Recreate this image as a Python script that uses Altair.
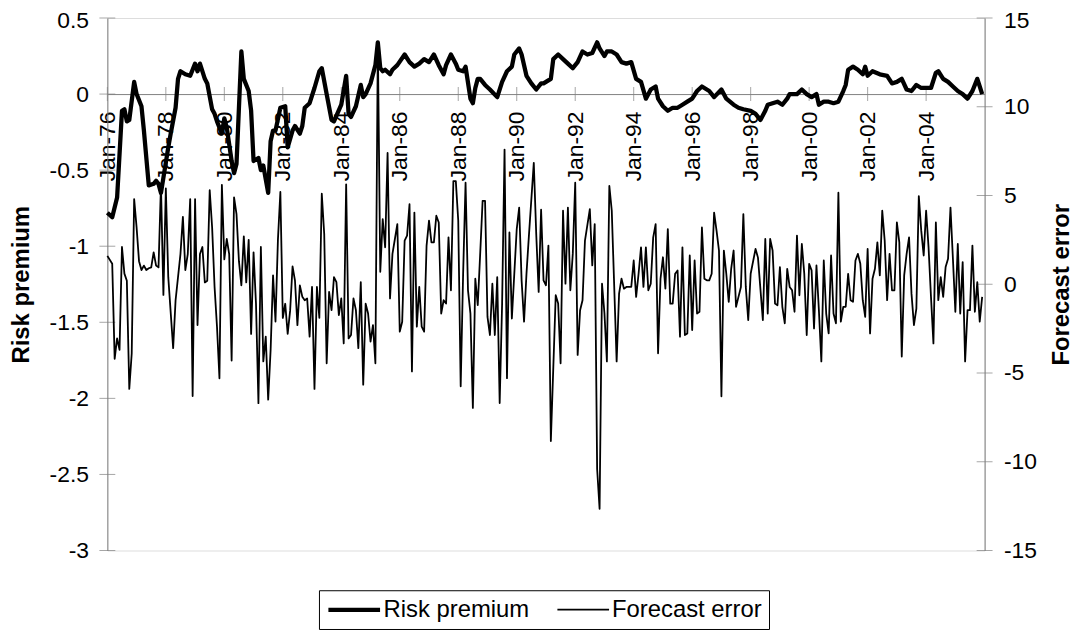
import altair as alt
import pandas as pd

# ---------------- data (months since Jan-1976) ----------------
rp_month = [0, 2, 4, 6, 7, 8, 9, 11, 12, 14, 15, 17, 19, 20, 21, 22, 23, 25, 26, 28, 29, 30, 32, 34, 36, 37, 38, 40, 41,
            43, 44, 45, 47, 48, 49, 51, 52, 53, 55, 56, 58, 59, 60, 62, 63, 64, 66, 67, 68, 69, 71, 73, 74, 76, 77, 79,
            80, 81, 83, 85, 87, 88, 90, 92, 93, 96, 98, 99, 100, 102, 104, 105, 106, 108, 110, 111, 112, 113, 114, 116,
            117, 119, 122, 124, 126, 128, 130, 132, 134, 136, 138, 139, 141, 143, 144, 146, 147, 149, 150, 151, 152,
            153, 155, 157, 160, 162, 164, 166, 167, 169, 170, 172, 174, 176, 178, 179, 182, 183, 185, 187, 189, 191,
            193, 195, 197, 199, 201, 202, 204, 205, 207, 209, 211, 213, 215, 217, 219, 221, 223, 225, 226, 228, 230,
            232, 234, 236, 238, 240, 242, 244, 247, 249, 252, 254, 257, 259, 261, 264, 266, 268, 270, 271, 273, 275,
            277, 279, 280, 283, 285, 287, 289, 291, 292, 294, 296, 298, 300, 302, 303, 304, 306, 308, 310, 311, 312,
            314, 317, 320, 322, 324, 326, 328, 330, 332, 334, 336, 338, 340, 341, 343, 345, 347, 349, 351, 353, 355,
            357, 358, 359]
rp_value = [-0.78, -0.81, -0.68, -0.11, -0.10, -0.18, -0.17, 0.08, 0.0, -0.08, -0.24, -0.60, -0.59, -0.57, -0.59,
            -0.65, -0.55, -0.35, -0.26, -0.09, 0.10, 0.15, 0.13, 0.12, 0.20, 0.15, 0.20, 0.10, 0.07, -0.10, -0.13,
            -0.18, -0.26, -0.16, -0.22, -0.44, -0.52, -0.46, 0.28, 0.10, 0.02, -0.11, -0.44, -0.42, -0.50, -0.47,
            -0.65, -0.31, -0.24, -0.24, -0.09, -0.08, -0.35, -0.24, -0.21, -0.26, -0.21, -0.09, -0.06, 0.04, 0.15,
            0.17, 0.0, -0.17, -0.18, -0.07, 0.12, -0.13, -0.15, -0.08, 0.06, -0.02, 0.0, 0.07, 0.19, 0.34, 0.17, 0.15,
            0.16, 0.13, 0.16, 0.19, 0.26, 0.21, 0.18, 0.20, 0.23, 0.21, 0.26, 0.19, 0.13, 0.19, 0.26, 0.20, 0.16, 0.15,
            0.18, -0.03, -0.06, 0.04, 0.10, 0.10, 0.06, 0.03, -0.02, 0.08, 0.15, 0.18, 0.26, 0.30, 0.26, 0.12, 0.07,
            0.03, 0.07, 0.07, 0.10, 0.23, 0.26, 0.23, 0.20, 0.17, 0.21, 0.28, 0.26, 0.27, 0.34, 0.30, 0.25, 0.28, 0.28,
            0.26, 0.21, 0.20, 0.21, 0.10, 0.08, -0.03, 0.03, 0.05, -0.03, -0.08, -0.11, -0.09, -0.09, -0.07, -0.05,
            -0.03, 0.02, 0.05, 0.02, -0.02, 0.03, -0.03, -0.07, -0.09, -0.10, -0.11, -0.13, -0.17, -0.11, -0.07, -0.06,
            -0.05, -0.07, -0.03, 0.0, 0.0, 0.03, 0.0, -0.02, 0.0, -0.07, -0.05, -0.05, -0.06, -0.05, 0.02, 0.06, 0.16,
            0.18, 0.16, 0.13, 0.18, 0.12, 0.15, 0.13, 0.12, 0.07, 0.08, 0.10, 0.03, 0.02, 0.06, 0.04, 0.04, 0.04, 0.14,
            0.15, 0.10, 0.08, 0.05, 0.02, 0.0, -0.03, 0.02, 0.10, 0.05, 0.0]

fe_month = [0, 2, 3, 4, 5, 6, 7, 8, 9, 10, 11, 12, 13, 14, 15, 16, 17, 18, 19, 20, 21, 22, 23, 24, 25, 27, 28, 30, 31,
            32, 33, 34, 35, 36, 37, 38, 39, 40, 41, 42, 43, 44, 45, 46, 47, 48, 49, 50, 51, 52, 53, 54, 55, 56, 57, 58,
            59, 60, 61, 62, 63, 64, 65, 66, 67, 68, 69, 70, 71, 72, 73, 74, 75, 76, 77, 78, 79, 80, 81, 82, 83, 84, 85,
            86, 87, 88, 89, 90, 91, 92, 93, 94, 95, 96, 97, 98, 99, 100, 101, 102, 103, 104, 105, 106, 107, 108, 109,
            110, 111, 112, 113, 114, 115, 116, 117, 118, 119, 120, 121, 122, 123, 124, 125, 126, 127, 128, 129, 130,
            131, 132, 133, 134, 135, 136, 137, 138, 139, 140, 141, 142, 143, 144, 145, 146, 147, 148, 149, 150, 151,
            152, 153, 154, 155, 156, 157, 158, 159, 160, 161, 162, 163, 164, 165, 166, 167, 168, 169, 170, 171, 172,
            173, 174, 175, 176, 177, 178, 179, 180, 181, 182, 184, 185, 186, 187, 188, 189, 190, 191, 192, 193, 194,
            195, 196, 198, 199, 200, 201, 202, 203, 204, 205, 206, 207, 209, 210, 211, 212, 213, 215, 216, 217, 218,
            219, 220, 221, 222, 223, 224, 225, 226, 227, 228, 229, 230, 231, 232, 233, 234, 235, 236, 237, 238, 239,
            240, 241, 242, 243, 244, 245, 246, 247, 248, 249, 250, 251, 252, 253, 254, 255, 256, 257, 258, 259, 260,
            261, 262, 263, 264, 266, 267, 269, 270, 271, 272, 273, 274, 275, 276, 277, 278, 279, 280, 281, 282, 283,
            284, 285, 286, 287, 288, 289, 290, 291, 292, 293, 294, 295, 296, 297, 298, 299, 300, 301, 302, 303, 304,
            305, 306, 307, 308, 309, 310, 311, 312, 313, 314, 315, 316, 317, 318, 319, 320, 321, 322, 323, 324, 325,
            326, 327, 328, 329, 330, 331, 332, 333, 334, 335, 336, 337, 338, 339, 340, 341, 342, 343, 344, 345, 346,
            347, 348, 349, 350, 351, 352, 353, 354, 355, 356, 357, 358, 359]
fe_value = [1.6, 1.15, -4.2, -3.05, -3.7, 2.1, 0.6, 0.2, -5.9, -3.9, 4.8, 3.2, 1.3, 0.8, 1.05, 0.8, 0.9, 0.95, 1.8,
            1.05, 0.95, 5.6, -0.6, 5.4, 0.4, -3.6, -0.9, 1.7, 3.8, 0.8, 1.7, 4.8, -6.3, 4.8, -2.3, 1.7, 2.1, 0.1, 0.2,
            5.3, 3.2, -0.15, -2.4, -5.3, 5.6, 1.4, 2.55, 1.7, -4.3, 4.9, 3.95, 1.3, -0.06, 2.7, 0.1, 2.5, -2.8, 1.8,
            -1.1, -6.7, 2.1, -4.35, -2.95, -6.5, -3.7, 0.5, -2.1, 2.5, 5.2, -1.9, -1.1, -2.8, -1.5, 1.0, 0.2, -2.3,
            -0.06, -0.7, -0.9, -0.8, -2.95, -0.15, -5.9, -0.15, -1.9, 5.1, 2.83, -4.45, -0.43, -1.46, 0.4, 0.12, -1.74,
            -0.8, -3.33, 5.63, -3.05, -2.86, -0.8, -1.46, -3.6, 0.12, -5.66, -1.09, -1.65, -3.23, -2.3, -4.45, 13.6,
            0.7, 3.67, 2.08, 7.4, -0.8, 1.71, 2.55, 3.39, -2.67, -2.11, 2.46, 2.74, 4.51, -4.91, 4.04, -2.39, -0.15,
            -2.39, -2.67, 2.18, 3.58, 2.36, 2.36, 3.86, 3.48, -1.65, -0.9, -1.09, 2.64, -0.34, 5.81, 5.81, 3.58, -5.75,
            0.59, 5.72, -0.34, -1.65, -6.97, 0.31, -1.18, 1.71, 4.7, 4.7, -1.84, -2.86, 0.03, -2.86, 0.4, -6.69, -1.09,
            7.59, -5.29, 2.92, -1.93, 0.59, 3.11, 4.32, 0.22, -2.11, 0.59, 2.74, 4.79, 6.84, 2.83, -0.43, 4.2, 0.22,
            -0.06, 2.18, -8.83, -0.62, -1.09, -4.45, 4.14, 0.03, 4.32, -0.34, 1.71, 5.72, -3.98, -1.46, -0.9, 2.46,
            4.23, 1.06, 3.39, -10.42, -12.65, 0.03, -1.65, -4.35, 5.54, 4.14, -4.35, -0.53, 0.31, -0.25, -0.15, -0.15,
            1.34, -0.71, 0.59, 2.08, -0.15, 2.08, -0.34, 0.03, 2.64, 3.39, -3.89, 0.31, 1.52, -0.25, 3.11, -1.09, -1.09,
            0.59, 0.78, -2.95, 2.08, -2.86, -2.77, 1.62, -2.58, 1.34, -1.65, -1.55, 3.2, 0.31, 0.22, 0.22, 0.59, 4.04,
            3.02, 1.9, -6.31, 1.9, 0.59, -0.99, 0.87, 1.9, -1.27, -0.71, -0.15, 3.95, -0.15, -2.02, 0.59, 1.99, 1.5,
            -2.02, 2.55, -1.65, 2.55, 1.9, -1.09, -1.18, 0.97, -1.27, -2.2, 0.87, -0.15, -0.34, -1.55, 2.74, -0.62,
            2.27, 0.59, -2.86, 1.15, 0.78, -2.49, 1.06, -1.46, -4.35, 1.34, -1.65, -2.77, 1.62, -1.65, -2.2, 5.16,
            -2.11, -1.27, -1.27, 0.59, -0.9, -0.99, 1.34, 1.71, 1.15, -0.9, -1.84, 1.99, -2.77, 0.31, 0.87, 2.36, 0.5,
            4.14, 2.46, -0.9, 1.71, -0.34, -0.34, 3.48, 2.36, -4.07, 0.5, 1.71, 2.64, -0.53, -2.3, -1.37, 4.97, 3.02,
            1.62, 4.14, 2.08, -0.71, -3.33, 3.48, -0.9, 0.4, -0.71, 0.97, 1.43, 4.32, 1.43, -1.55, 2.27, -1.65, 1.25,
            -4.35, -1.46, -1.46, 2.18, -1.55, 0.12, -2.11, -0.71]

series_names = ["Risk premium", "Forecast error"]
x_tick_months = list(range(0, 360, 24))          # Jan-76, Jan-78, ... Jan-04
left_ticks = [0.5, 0, -0.5, -1, -1.5, -2, -2.5, -3]
right_ticks = [15, 10, 5, 0, -5, -10, -15]

FONT = "Liberation Sans"
GREY = "#808080"

rp_df = pd.DataFrame({"m": rp_month, "v": rp_value, "series": series_names[0]})
fe_df = pd.DataFrame({"m": fe_month, "v": fe_value, "series": series_names[1]})
xt_df = pd.DataFrame({"m": x_tick_months})
lt_df = pd.DataFrame({"v": left_ticks})
rt_df = pd.DataFrame({"v": right_ticks})

W, H = 883, 536
zero_px = H * 0.5 / 3.5  # where 0 of the left scale lies, from top

x_enc = alt.X(
    "m:Q",
    scale=alt.Scale(domain=[0, 360], nice=False, zero=False),
    axis=alt.Axis(
        values=x_tick_months,
        labelExpr="'Jan-' + format((76 + datum.value / 12) % 100, '02d')",
        labelAngle=270, labelFlush=False, labelPadding=17,
        ticks=False, tickSize=0, grid=False,
        domainColor=GREY, offset=-(H - zero_px),
        labelFont=FONT, labelFontSize=23, labelColor="black",
    ),
    title=None,
)

y_rp = alt.Y(
    "v:Q",
    scale=alt.Scale(domain=[-3, 0.5], nice=False, zero=False),
    axis=alt.Axis(
        values=left_ticks, orient="left", ticks=False, tickSize=0, grid=False,
        domainColor=GREY, labelPadding=19, labelFlush=False,
        labelExpr="datum.value + ''",
        labelOffset={"condition": {"test": "datum.value == 0.5", "value": 3}, "value": 0},
        labelFont=FONT, labelFontSize=23, labelColor="black",
        titleFont=FONT, titleFontSize=24, titleFontWeight="bold", titleColor="black",
        titleAngle=270, titleX=-86, titleY=H / 2, titleAlign="center", titleBaseline="middle",
    ),
    title="Risk premium",
)

y_fe = alt.Y(
    "v:Q",
    scale=alt.Scale(domain=[-15, 15], nice=False, zero=False),
    axis=alt.Axis(
        values=right_ticks, orient="right", ticks=False, tickSize=0, grid=False,
        domainColor=GREY, labelPadding=19, labelFlush=False,
        labelExpr="datum.value + ''",
        labelOffset={"condition": {"test": "datum.value == 15", "value": 3}, "value": 0},
        labelFont=FONT, labelFontSize=23, labelColor="black",
        titleFont=FONT, titleFontSize=24, titleFontWeight="bold", titleColor="black",
        titleAngle=270, titleX=77, titleY=H / 2, titleAlign="center", titleBaseline="middle",
    ),
    title="Forecast error",
)

sw = alt.StrokeWidth(
    "series:N",
    scale=alt.Scale(domain=series_names, range=[4.3, 1.8]),
    legend=alt.Legend(
        title=None, orient="none", legendX=213, legendY=576, direction="horizontal",
        strokeColor="black", fillColor="white", padding=7, cornerRadius=0,
        labelFont=FONT, labelFontSize=24, labelColor="black", labelOffset=33, labelLimit=400,
        symbolSize=400, symbolStrokeColor="black", symbolFillColor="transparent",
        symbolType="M-1,0H4.2", columnPadding=24,
    ),
)

rp_line = alt.Chart(rp_df).mark_line(color="black", strokeJoin="round").encode(x=x_enc, y=y_rp, strokeWidth=sw)
fe_line = alt.Chart(fe_df).mark_line(color="black", strokeJoin="round").encode(x=x_enc, y=y_fe, strokeWidth=sw)

x_ticks = alt.Chart(xt_df).mark_tick(orient="vertical", size=14, thickness=1, color=GREY).encode(
    x=x_enc, y=alt.Y(datum=0))
l_ticks = alt.Chart(lt_df).mark_tick(orient="horizontal", size=16, thickness=1, color=GREY).encode(
    x=alt.X(datum=0), y=y_rp)
r_ticks = alt.Chart(rt_df).mark_tick(orient="horizontal", size=16, thickness=1, color=GREY).encode(
    x=alt.X(datum=360), y=y_fe)

left_group = alt.layer(x_ticks, l_ticks, rp_line)
right_group = alt.layer(r_ticks, fe_line)

chart = (
    alt.layer(left_group, right_group)
    .resolve_scale(y="independent")
    .properties(
        width=W, height=H,
        autosize=alt.AutoSizeParams(type="none"),
        padding={"left": 100, "top": 8, "right": 92, "bottom": 85},
        background="white",
    )
    .configure_view(strokeWidth=0)
    .configure(font=FONT)
)

chart.save("out.html", embed_options={"renderer": "svg", "actions": False})
